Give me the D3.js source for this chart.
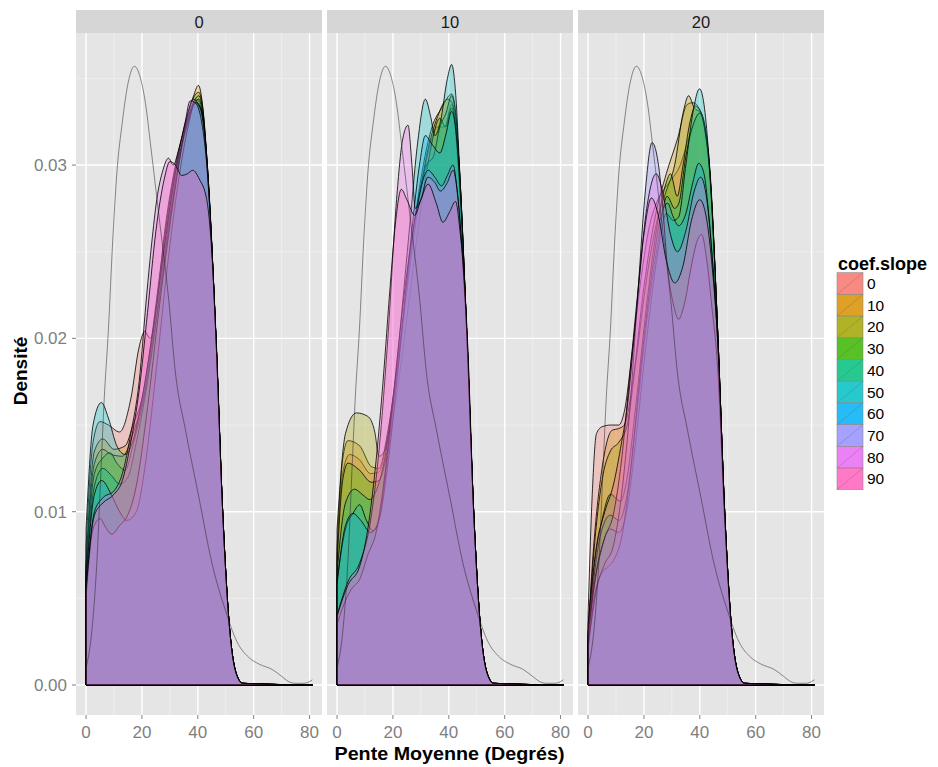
<!DOCTYPE html>
<html><head><meta charset="utf-8">
<script src="https://cdn.jsdelivr.net/npm/d3@7"></script>
<style>body{margin:0;background:#fff}svg{display:block}text{font-family:"Liberation Sans",Arial,Helvetica,sans-serif}</style>
</head><body><svg id="c" width="938" height="767"></svg>
<script>
// ---------- data ----------
const facetNames = ["0", "10", "20"];
const seriesNames = ["0", "10", "20", "30", "40", "50", "60", "70", "80", "90"];
const seriesColors = ["#F8766D","#D89000","#A3A500","#39B600","#00BF7D","#00BFC4","#00B0F6","#9590FF","#E76BF3","#FF62BC"];
const xTicks = [0, 20, 40, 60, 80];
const yTicks = [0, 0.01, 0.02, 0.03];
const yTickLabels = ["0.00", "0.01", "0.02", "0.03"];

// grey reference density (same in every panel)
const refCurve = [[0,0.0010],[2,0.0030],[4,0.0075],[5.5,0.0130],[6.5,0.0165],[8,0.0205],[9.5,0.0255],[11,0.0295],[13,0.0325],[15,0.0347],[17.3,0.0357],[19.5,0.0350],[21.5,0.0333],[23,0.0313],[26,0.0272],[29.6,0.0222],[32,0.0180],[35.6,0.0147],[40.3,0.0109],[45.1,0.0070],[49.9,0.0043],[54,0.0025],[58.2,0.0016],[62,0.0012],[66.6,0.0009],[70,0.0005],[72.5,0.0002],[74.9,0.0001],[78,0.0001],[80,0.0002],[81,0.0003]];

// panel "0"
const facet0 = [
 [[0,0.0080],[2.5,0.0140],[5,0.0152],[8,0.0150],[12,0.0146],[16,0.0165],[19,0.0195],[21,0.0204],[23,0.0200],[25,0.0215],[28,0.0260],[32,0.0300],[36,0.0325],[39.5,0.0338],[41.5,0.0330],[43.3,0.0300],[46.5,0.0200],[48.9,0.0100],[51,0.0040],[53.5,0.0008],[56,0.0001],[81,0]],
 [[0,0.0070],[3,0.0135],[6,0.0142],[10,0.0136],[14,0.0138],[17,0.0151],[20,0.0165],[23,0.0195],[27,0.0245],[31,0.0290],[35,0.0320],[38.5,0.0340],[40.2,0.0346],[41.8,0.0333],[43.3,0.0300],[46.5,0.0200],[48.9,0.0100],[51,0.0040],[53.5,0.0008],[56,0.0001],[81,0]],
 [[0,0.0068],[3,0.0128],[6,0.0136],[9,0.0133],[13,0.0132],[17,0.0146],[21,0.0170],[25,0.0215],[29,0.0265],[33,0.0305],[37,0.0333],[40.3,0.0342],[42,0.0330],[43.4,0.0300],[46.5,0.0200],[48.9,0.0100],[51,0.0040],[53.5,0.0008],[56,0.0001],[81,0]],
 [[0,0.0065],[3,0.0122],[6,0.0131],[8.6,0.0134],[11,0.0128],[14,0.0124],[17,0.0140],[21,0.0168],[25,0.0210],[29,0.0260],[33,0.0300],[37,0.0330],[40.4,0.0340],[42,0.0328],[43.4,0.0300],[46.5,0.0200],[48.9,0.0100],[51,0.0040],[53.5,0.0008],[56,0.0001],[81,0]],
 [[0,0.0062],[3,0.0115],[6,0.0125],[9,0.0121],[12,0.0116],[15,0.0120],[18,0.0140],[22,0.0175],[26,0.0220],[30,0.0268],[34,0.0308],[38,0.0333],[40.3,0.0338],[42,0.0326],[43.4,0.0300],[46.5,0.0200],[48.9,0.0100],[51,0.0040],[53.5,0.0008],[56,0.0001],[81,0]],
 [[0,0.0090],[2.5,0.0150],[5.5,0.0163],[8,0.0154],[11,0.0138],[14,0.0133],[17,0.0142],[20,0.0165],[24,0.0205],[28,0.0252],[32,0.0295],[36,0.0322],[39.5,0.0336],[41.5,0.0330],[43.3,0.0300],[46.5,0.0200],[48.9,0.0100],[51,0.0040],[53.5,0.0008],[56,0.0001],[81,0]],
 [[0,0.0060],[3,0.0110],[5.6,0.0118],[9,0.0110],[12,0.0100],[14.6,0.0095],[18,0.0100],[21,0.0125],[25,0.0180],[29,0.0240],[33,0.0290],[36.5,0.0322],[39,0.0336],[41,0.0333],[43.3,0.0300],[46.5,0.0200],[48.9,0.0100],[51,0.0040],[53.5,0.0008],[56,0.0001],[81,0]],
 [[0,0.0050],[2.5,0.0090],[5,0.0096],[7,0.0091],[9.2,0.0087],[12,0.0092],[14.6,0.0097],[18,0.0115],[22,0.0160],[26,0.0215],[30,0.0265],[34,0.0308],[36.5,0.0330],[38.3,0.0338],[40.5,0.0334],[42.3,0.0320],[43.5,0.0298],[46.5,0.0200],[48.9,0.0100],[51,0.0040],[53.5,0.0008],[56,0.0001],[81,0]],
 [[0,0.0055],[3,0.0100],[6,0.0108],[10,0.0112],[13,0.0122],[16,0.0145],[19,0.0175],[21.7,0.0225],[23.5,0.0255],[25.3,0.0280],[27.5,0.0297],[29.5,0.0304],[31.2,0.0300],[33,0.0308],[35.5,0.0325],[37.2,0.0337],[39,0.0336],[41,0.0328],[43.3,0.0298],[46.5,0.0200],[48.9,0.0100],[51,0.0040],[53.5,0.0008],[56,0.0001],[81,0]],
 [[0,0.0055],[3,0.0098],[6,0.0105],[10,0.0110],[13,0.0118],[16,0.0140],[19,0.0170],[22,0.0215],[25,0.0262],[28,0.0292],[30,0.0302],[32,0.0300],[34.2,0.0294],[36.3,0.0295],[38.2,0.0297],[40.5,0.0292],[43.2,0.0280],[45,0.0250],[46.7,0.0195],[48.9,0.0100],[51,0.0040],[53.5,0.0008],[56,0.0001],[81,0]]
];

// panel "10"
const facet10 = [
 [[0,0.0075],[2,0.0122],[4.5,0.0133],[8,0.0130],[12,0.0122],[15,0.0123],[18,0.0142],[22,0.0185],[26,0.0240],[30,0.0285],[33,0.0310],[36,0.0322],[38.5,0.0322],[41,0.0335],[42.5,0.0326],[43.7,0.0300],[46.5,0.0200],[48.9,0.0100],[51,0.0040],[53.5,0.0008],[56,0.0001],[81,0]],
 [[0,0.0080],[2,0.0130],[3.9,0.0141],[8.1,0.0138],[12.3,0.0126],[15,0.0125],[18,0.0145],[22,0.0190],[26,0.0245],[30,0.0292],[34,0.0322],[37.5,0.0333],[41,0.0341],[42.5,0.0330],[43.7,0.0300],[46.5,0.0200],[48.9,0.0100],[51,0.0040],[53.5,0.0008],[56,0.0001],[81,0]],
 [[0,0.0090],[3,0.0145],[6.9,0.0157],[11,0.0155],[13.5,0.0146],[15,0.0132],[17,0.0135],[20,0.0165],[24,0.0215],[28,0.0265],[32,0.0305],[36,0.0328],[39.5,0.0338],[41.2,0.0336],[43.3,0.0300],[46.5,0.0200],[48.9,0.0100],[51,0.0040],[53.5,0.0008],[56,0.0001],[81,0]],
 [[0,0.0070],[2,0.0118],[3.9,0.0128],[8,0.0124],[12.3,0.0117],[15,0.0118],[18,0.0135],[22,0.0175],[26,0.0225],[30,0.0275],[33,0.0305],[36.8,0.0327],[38.8,0.0322],[41,0.0333],[42.5,0.0322],[43.7,0.0300],[46.5,0.0200],[48.9,0.0100],[51,0.0040],[53.5,0.0008],[56,0.0001],[81,0]],
 [[0,0.0065],[3,0.0105],[6.3,0.0113],[9,0.0110],[11.7,0.0107],[14,0.0112],[17,0.0130],[21,0.0175],[25,0.0230],[29,0.0280],[32,0.0300],[34.5,0.0305],[36.8,0.0322],[39,0.0330],[41,0.0340],[42.5,0.0328],[43.7,0.0300],[46.5,0.0200],[48.9,0.0100],[51,0.0040],[53.5,0.0008],[56,0.0001],[81,0]],
 [[0,0.0060],[3,0.0090],[5.7,0.0099],[8.1,0.0104],[10.5,0.0095],[12.9,0.0089],[15,0.0095],[18,0.0130],[22,0.0195],[26,0.0265],[29,0.0315],[31.6,0.0338],[33.5,0.0328],[35,0.0317],[37,0.0325],[39.5,0.0350],[41,0.0358],[42.5,0.0340],[43.8,0.0300],[46.5,0.0200],[48.9,0.0100],[51,0.0040],[53.5,0.0008],[56,0.0001],[81,0]],
 [[0,0.0058],[3,0.0092],[5.7,0.0099],[8.5,0.0095],[12,0.0088],[15,0.0095],[18,0.0125],[22,0.0185],[26,0.0250],[29.5,0.0300],[31.6,0.0317],[34,0.0312],[36.8,0.0307],[39,0.0318],[41,0.0331],[42.5,0.0320],[43.7,0.0295],[46.5,0.0200],[48.9,0.0100],[51,0.0040],[53.5,0.0008],[56,0.0001],[81,0]],
 [[0,0.0035],[2.1,0.0045],[5,0.0055],[8.1,0.0061],[11,0.0075],[14.1,0.0089],[17,0.0120],[20,0.0165],[24,0.0225],[28,0.0270],[32.6,0.0297],[35,0.0293],[37.4,0.0288],[39.5,0.0294],[41.5,0.0300],[43,0.0285],[44.5,0.0255],[46.5,0.0200],[48.9,0.0100],[51,0.0040],[53.5,0.0008],[56,0.0001],[81,0]],
 [[0,0.0040],[4,0.0060],[8,0.0070],[12,0.0095],[15,0.0135],[18.3,0.0203],[21.3,0.0280],[23.5,0.0315],[25.4,0.0323],[26.8,0.0300],[28,0.0275],[30,0.0280],[32.5,0.0293],[35,0.0290],[37,0.0285],[39.5,0.0290],[41.5,0.0297],[43.2,0.0282],[44.6,0.0255],[46.6,0.0200],[48.9,0.0100],[51,0.0040],[53.5,0.0008],[56,0.0001],[81,0]],
 [[0,0.0040],[4,0.0058],[8,0.0068],[11,0.0090],[14,0.0130],[16.5,0.0176],[19,0.0230],[21,0.0268],[23,0.0286],[25,0.0280],[27.8,0.0271],[30,0.0280],[32.6,0.0289],[35.5,0.0278],[37.9,0.0267],[40.3,0.0273],[42.4,0.0279],[44,0.0262],[45.5,0.0235],[46.8,0.0195],[48.9,0.0100],[51,0.0040],[53.5,0.0008],[56,0.0001],[81,0]]
];

// panel "20"
const facet20 = [
 [[0,0.0040],[1.5,0.0110],[3,0.0145],[5,0.0149],[8,0.0150],[11,0.0150],[13,0.0158],[16,0.0195],[19,0.0235],[22,0.0265],[25,0.0280],[29,0.0290],[33,0.0300],[36.5,0.0318],[40,0.0330],[42,0.0318],[43.5,0.0295],[46.5,0.0200],[48.9,0.0100],[51,0.0040],[53.5,0.0008],[56,0.0001],[81,0]],
 [[0,0.0030],[2,0.0080],[5,0.0125],[8.6,0.0147],[11,0.0148],[13,0.0150],[16,0.0175],[20,0.0230],[24,0.0270],[28,0.0295],[32,0.0315],[35.5,0.0335],[37.5,0.0336],[40,0.0332],[42,0.0320],[43.5,0.0298],[46.5,0.0200],[48.9,0.0100],[51,0.0040],[53.5,0.0008],[56,0.0001],[81,0]],
 [[0,0.0028],[2,0.0075],[5,0.0118],[8,0.0135],[11,0.0140],[14,0.0150],[17,0.0185],[21,0.0235],[25,0.0270],[28,0.0285],[31,0.0300],[34,0.0330],[36,0.0340],[38,0.0333],[40.5,0.0330],[42.3,0.0318],[43.6,0.0298],[46.5,0.0200],[48.9,0.0100],[51,0.0040],[53.5,0.0008],[56,0.0001],[81,0]],
 [[0,0.0025],[2,0.0065],[5,0.0095],[8,0.0110],[11.6,0.0106],[14,0.0120],[17,0.0160],[21,0.0220],[25,0.0268],[28,0.0290],[29.5,0.0295],[31.9,0.0282],[34,0.0300],[36.5,0.0325],[38.4,0.0334],[40.5,0.0330],[42.3,0.0316],[43.6,0.0295],[46.5,0.0200],[48.9,0.0100],[51,0.0040],[53.5,0.0008],[56,0.0001],[81,0]],
 [[0,0.0025],[2,0.0060],[5,0.0090],[8,0.0098],[11,0.0095],[14,0.0110],[17,0.0150],[21,0.0210],[25,0.0255],[28.3,0.0282],[31,0.0275],[32.5,0.0278],[35,0.0305],[38,0.0325],[40,0.0330],[42,0.0318],[43.6,0.0295],[46.5,0.0200],[48.9,0.0100],[51,0.0040],[53.5,0.0008],[56,0.0001],[81,0]],
 [[0,0.0022],[2,0.0055],[5,0.0080],[8,0.0090],[11,0.0088],[14,0.0102],[17,0.0140],[21,0.0200],[25,0.0250],[28,0.0272],[30.5,0.0268],[32.4,0.0270],[35,0.0300],[37.5,0.0330],[39.9,0.0344],[41.5,0.0335],[43,0.0310],[44,0.0285],[46.5,0.0200],[48.9,0.0100],[51,0.0040],[53.5,0.0008],[56,0.0001],[81,0]],
 [[0,0.0020],[2,0.0048],[5,0.0065],[7,0.0068],[9.8,0.0074],[12,0.0085],[15,0.0120],[19,0.0185],[23,0.0240],[26,0.0270],[28.5,0.0278],[30.5,0.0270],[32.4,0.0265],[35,0.0272],[37.5,0.0290],[39.6,0.0301],[41.5,0.0295],[43,0.0275],[44.5,0.0245],[46.5,0.0195],[48.9,0.0100],[51,0.0040],[53.5,0.0008],[56,0.0001],[81,0]],
 [[0,0.0022],[3,0.0055],[6,0.0070],[9,0.0080],[12,0.0110],[15,0.0160],[18,0.0230],[20.5,0.0285],[22.9,0.0313],[25.3,0.0299],[27,0.0270],[28.3,0.0243],[30.5,0.0220],[32.4,0.0211],[34.5,0.0220],[37,0.0242],[39,0.0256],[40.6,0.0260],[42.5,0.0245],[44.2,0.0220],[46.5,0.0180],[48.9,0.0095],[51,0.0038],[53.5,0.0008],[56,0.0001],[81,0]],
 [[0,0.0030],[3,0.0065],[6,0.0085],[9,0.0098],[12,0.0130],[15,0.0180],[18,0.0230],[21,0.0275],[24.4,0.0295],[27,0.0282],[29.5,0.0260],[32,0.0250],[35,0.0262],[38,0.0285],[40.3,0.0293],[42.5,0.0280],[44.3,0.0250],[46.5,0.0195],[48.9,0.0100],[51,0.0040],[53.5,0.0008],[56,0.0001],[81,0]],
 [[0,0.0035],[3,0.0080],[6,0.0100],[9,0.0115],[12,0.0140],[14,0.0160],[17,0.0210],[20,0.0260],[22.7,0.0281],[25,0.0272],[28,0.0245],[31,0.0232],[34,0.0242],[37,0.0268],[40,0.0280],[42.3,0.0270],[44.2,0.0245],[46.5,0.0195],[48.9,0.0100],[51,0.0040],[53.5,0.0008],[56,0.0001],[81,0]]
];
const facetCurves = [facet0, facet10, facet20];

// ---------- drawing ----------
const svg = d3.select("#c");
const panelLeft = [76, 327, 578], panelW = 246, panelTop = 33, panelBottom = 715, stripTop = 10;
const x = d3.scaleLinear().domain([-3.6, 84.45]).range([0, panelW]);
const y = d3.scaleLinear().domain([-0.00173, 0.03762]).range([panelBottom, panelTop]);
const xMinor = [10, 30, 50, 70], yMinor = [0.005, 0.015, 0.025, 0.035];
const area = d3.area().x(d => x(d[0])).y0(y(0)).y1(d => y(d[1])).curve(d3.curveMonotoneX);
const line = d3.line().x(d => x(d[0])).y(d => y(d[1])).curve(d3.curveMonotoneX);

facetNames.forEach((fn, i) => {
  const g = svg.append("g").attr("transform", `translate(${panelLeft[i]},0)`);
  g.append("rect").attr("x", 0).attr("y", stripTop).attr("width", panelW).attr("height", panelTop - stripTop).attr("fill", "#d6d6d6");
  g.append("text").attr("x", panelW / 2).attr("y", (stripTop + panelTop) / 2 + 6).attr("text-anchor", "middle")
    .attr("font-size", 16.5).attr("fill", "#1a1a1a").text(fn);
  g.append("rect").attr("x", 0).attr("y", panelTop).attr("width", panelW).attr("height", panelBottom - panelTop).attr("fill", "#e5e5e5");
  g.selectAll(".vmin").data(xMinor).join("line").attr("x1", d => x(d)).attr("x2", d => x(d)).attr("y1", panelTop).attr("y2", panelBottom).attr("stroke", "#f2f2f2").attr("stroke-width", 0.7);
  g.selectAll(".hmin").data(yMinor).join("line").attr("y1", d => y(d)).attr("y2", d => y(d)).attr("x1", 0).attr("x2", panelW).attr("stroke", "#f2f2f2").attr("stroke-width", 0.7);
  g.selectAll(".vmaj").data(xTicks).join("line").attr("x1", d => x(d)).attr("x2", d => x(d)).attr("y1", panelTop).attr("y2", panelBottom).attr("stroke", "#ffffff").attr("stroke-width", 1.4);
  g.selectAll(".hmaj").data(yTicks).join("line").attr("y1", d => y(d)).attr("y2", d => y(d)).attr("x1", 0).attr("x2", panelW).attr("stroke", "#ffffff").attr("stroke-width", 1.4);
  const cid = "clip" + i;
  g.append("clipPath").attr("id", cid).append("rect").attr("x", 0).attr("y", panelTop).attr("width", panelW).attr("height", panelBottom - panelTop);
  const pg = g.append("g").attr("clip-path", `url(#${cid})`);
  facetCurves[i].forEach((c, k) => {
    pg.append("path").attr("d", area(c)).attr("fill", seriesColors[k]).attr("fill-opacity", 0.3)
      .attr("stroke", "#000").attr("stroke-width", 0.85).attr("stroke-opacity", 0.95);
  });
  pg.append("path").attr("d", line(refCurve)).attr("fill", "none").attr("stroke", "#222").attr("stroke-opacity", 0.5).attr("stroke-width", 1);
  // x axis
  g.selectAll(".xt").data(xTicks).join("line").attr("x1", d => x(d)).attr("x2", d => x(d)).attr("y1", panelBottom).attr("y2", panelBottom + 4).attr("stroke", "#7f7f7f");
  g.selectAll(".xl").data(xTicks).join("text").attr("x", d => x(d)).attr("y", 738).attr("text-anchor", "middle")
    .attr("font-size", 17).attr("fill", "#7f7f7f").text(d => d);
});
// y axis
svg.selectAll(".yt").data(yTicks).join("line").attr("x1", 72).attr("x2", 76).attr("y1", d => y(d)).attr("y2", d => y(d)).attr("stroke", "#7f7f7f");
svg.selectAll(".yl").data(yTicks).join("text").attr("x", 67).attr("y", d => y(d) + 6).attr("text-anchor", "end")
  .attr("font-size", 17).attr("fill", "#7f7f7f").text((d, i) => yTickLabels[i]);
// titles
svg.append("text").attr("x", 449.5).attr("y", 760).attr("text-anchor", "middle").attr("font-size", 17.5).attr("font-weight", "bold")
  .attr("textLength", 230).attr("lengthAdjust", "spacingAndGlyphs").text("Pente Moyenne (Degrés)");
svg.append("text").attr("transform", "translate(27,371) rotate(-90)").attr("text-anchor", "middle").attr("font-size", 19).attr("font-weight", "bold").text("Densité");
// legend
const lg = svg.append("g");
lg.append("text").attr("x", 838).attr("y", 270).attr("font-size", 18).attr("font-weight", "bold").text("coef.slope");
const keyH = 21.7, keyY0 = 272.7, keyX = 837, keyW = 26;
seriesNames.forEach((s, k) => {
  const ky = keyY0 + k * keyH;
  lg.append("rect").attr("x", keyX).attr("y", ky).attr("width", keyW).attr("height", keyH).attr("fill", seriesColors[k]).attr("fill-opacity", 0.85).attr("stroke", "#8a8a8a").attr("stroke-width", 0.6);
  lg.append("line").attr("x1", keyX).attr("y1", ky + keyH).attr("x2", keyX + keyW).attr("y2", ky).attr("stroke", "#555").attr("stroke-opacity", 0.45).attr("stroke-width", 0.6);
  lg.append("text").attr("x", keyX + keyW + 4).attr("y", ky + keyH / 2 + 5.5).attr("font-size", 15.5).attr("fill", "#000").text(s);
});
</script></body></html>
